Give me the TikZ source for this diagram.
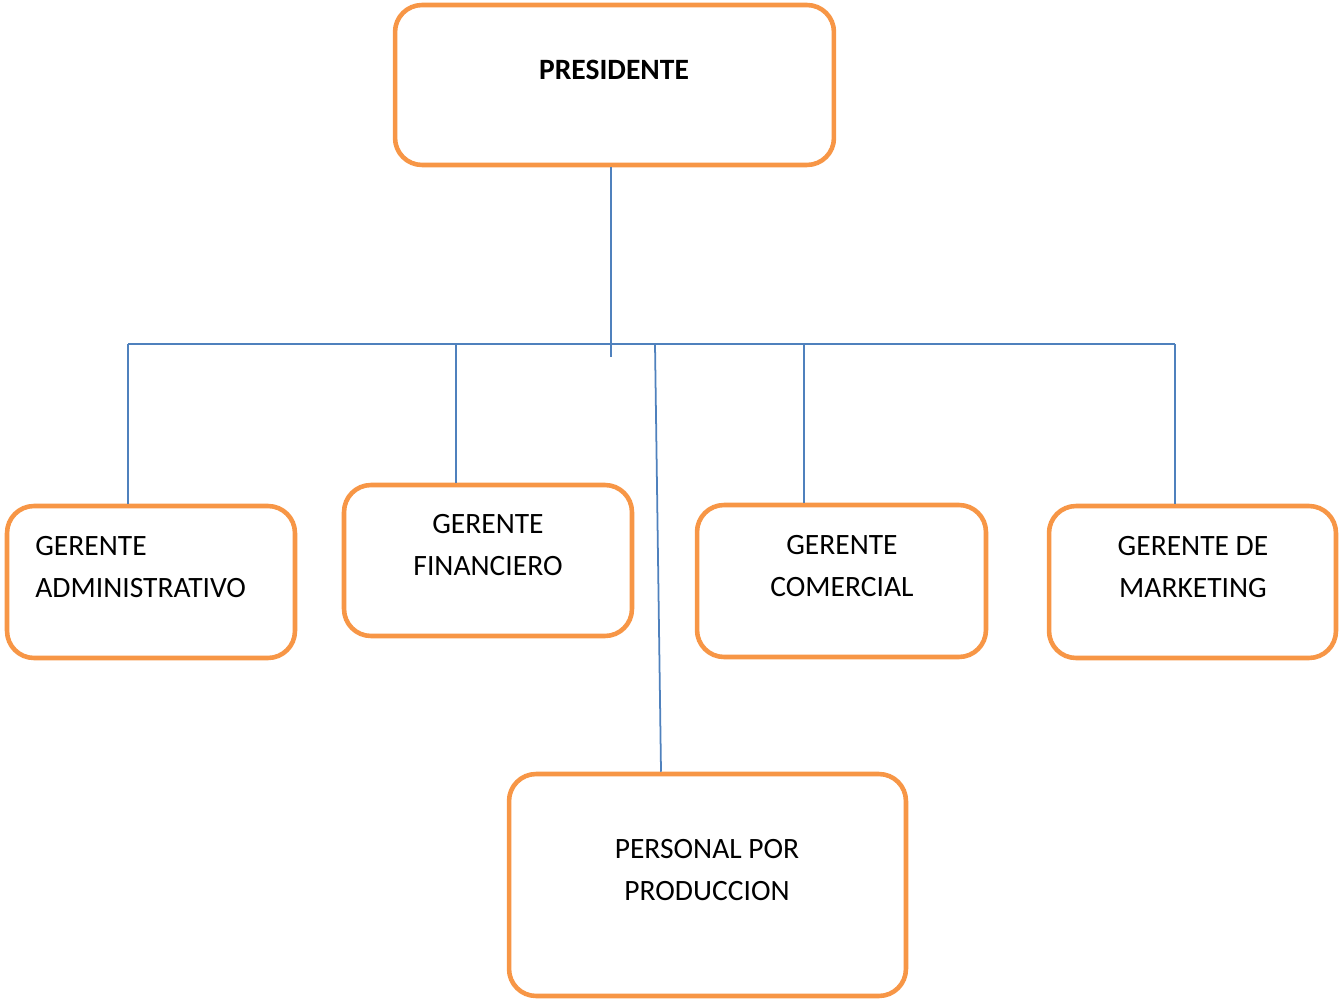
\documentclass[tikz,border=0pt]{standalone}
\usepackage{fontspec}
\setmainfont{Carlito}
\usepackage{tikz}
\definecolor{boxorange}{HTML}{F79646}
\definecolor{lineblue}{HTML}{4F81BD}
\tikzset{
    orgbox/.style={draw=boxorange, line width=2.6pt, rounded corners=0.54cm, fill=white},
    orgtext/.style={font=\fontsize{16.8}{23.9}\selectfont, align=center, inner sep=0pt},
    conn/.style={draw=lineblue, line width=1pt}
}
\begin{document}
\begin{tikzpicture}[x=0.02cm, y=-0.02cm]
        \useasboundingbox (0,0) rectangle (1339,1000);
        \node[orgbox, minimum width=8.78cm, minimum height=3.2cm]   (pres) at (614.5,85)  {};
        \node[orgbox, minimum width=5.76cm, minimum height=3.04cm]  (adm)  at (151,582)   {};
        \node[orgbox, minimum width=5.76cm, minimum height=3.02cm]  (fin)  at (488,560.5) {};
        \node[orgbox, minimum width=5.78cm, minimum height=3.04cm]  (com)  at (841.5,581) {};
        \node[orgbox, minimum width=5.74cm, minimum height=3.04cm]  (mkt)  at (1192.5,582) {};
        \node[orgbox, minimum width=7.94cm, minimum height=4.44cm]  (prod) at (707.5,885) {};

        \node[orgtext, font=\fontsize{16.8}{23.9}\selectfont\bfseries] (pres-t) at (614,70) {PRESIDENTE};
        \node[orgtext, align=left, anchor=west] (adm-t)  at (35,567)    {GERENTE\\ADMINISTRATIVO};
        \node[orgtext] (fin-t)  at (488,545.5)  {GERENTE\\FINANCIERO};
        \node[orgtext] (com-t)  at (842,566)    {GERENTE\\COMERCIAL};
        \node[orgtext] (mkt-t)  at (1193,567)   {GERENTE DE\\MARKETING};
        \node[orgtext] (prod-t) at (707,870)    {PERSONAL POR\\PRODUCCION};

        \coordinate (stub) at (611,357);
        \coordinate (j1) at (128,344);
        \coordinate (j2) at (456,344);
        \coordinate (j3) at (655,344);
        \coordinate (j4) at (804,344);
        \coordinate (j5) at (1175,344);

        \path[conn]     (stub |- pres.south)    edge    (stub)
                        (j1)                    edge    (j5)
                        (j1)                    edge    (j1 |- adm.north)
                        (j2)                    edge    (j2 |- fin.north)
                        (j4)                    edge    (j4 |- com.north)
                        (j5)                    edge    (j5 |- mkt.north)
                        (j3)                    edge    ([xshift=-0.93cm]prod.north)
        ;
\end{tikzpicture}
\end{document}
